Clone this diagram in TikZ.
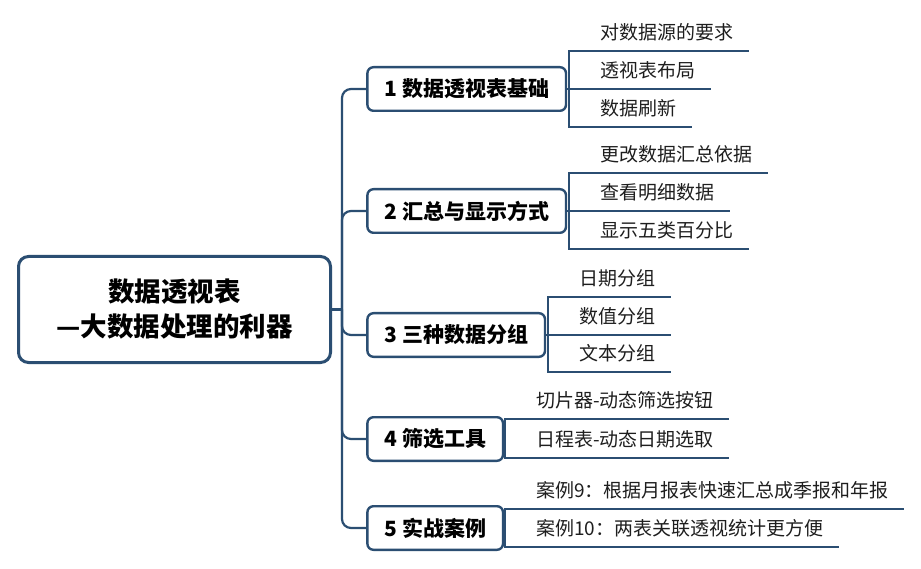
\documentclass[tikz,border=0pt]{standalone}
\usepackage{fontspec}
\newfontfamily\cjk{Noto Sans CJK SC}
\usetikzlibrary{calc}
\definecolor{linecol}{RGB}{43,78,114}
\definecolor{leaftxt}{RGB}{30,30,30}

\tikzset{
  conn/.style={draw=linecol,line width=2.2pt},
  leafline/.style={conn,line cap=rect},
  rootbox/.style={draw=linecol,line width=3pt,rounded corners=10pt,fill=white,
    minimum width=312pt,minimum height=106pt,align=center,
    font=\cjk\bfseries\fontsize{26.5}{35}\selectfont},
  branch/.style={draw=linecol,line width=2.4pt,rounded corners=6pt,fill=white,
    anchor=west,minimum height=43.6pt,inner xsep=17pt,
    font=\cjk\bfseries\fontsize{21}{25}\selectfont},
  leaf/.style={anchor=south west,inner xsep=0pt,inner ysep=7pt,
    text height=14pt,text depth=4pt,text=leaftxt,
    font=\cjk\fontsize{19}{22}\selectfont,
    execute at begin node=\hspace*{31pt},execute at end node=\hspace*{14pt}},
}

\begin{document}
\begin{tikzpicture}[x=1pt,y=-1pt]
\useasboundingbox (0,0) rectangle (921,569);
\node[rootbox] (root) at (174.5,309.5) {数据透视表\\—大数据处理的利器};
\coordinate (hub) at (342,309.5);

\node[branch] (b1) at (366.2,89)  {1 数据透视表基础};
\node[branch] (b2) at (366.2,211) {2 汇总与显示方式};
\node[branch] (b3) at (366.2,335) {3 三种数据分组};
\node[branch] (b4) at (366.2,439) {4 筛选工具};
\node[branch] (b5) at (366.2,528) {5 实战案例};

\draw[conn] (root.east) -- (hub);
\foreach \b in {b1,b2,b3,b4,b5}
  \draw[conn,rounded corners=9pt] (hub) |- (\b.west);

% leaves, each sitting on its own underline
\foreach \x/\y/\name/\txt in {
  569/51/l11/对数据源的要求, 569/89/l12/透视表布局, 569/127/l13/数据刷新,
  569/173/l21/更改数据汇总依据, 569/211/l22/查看明细数据, 569/249/l23/显示五类百分比,
  548/297/l31/日期分组, 548/335/l32/数值分组, 548/372/l33/文本分组,
  505/419/l41/切片器-动态筛选按钮, 505/458/l42/日程表-动态日期选取,
  505/509/l51/案例9：根据月报表快速汇总成季报和年报, 505/547/l52/案例10：两表关联透视统计更方便}{
  \node[leaf] (\name) at (\x,\y) {\txt};
  \draw[leafline] (\name.south west) -- (\name.south east);}

\foreach \b/\top/\bot in {b1/l11/l13,b2/l21/l23,b3/l31/l33,b4/l41/l42,b5/l51/l52}{
  \draw[leafline] (\top.south west) -- (\bot.south west);
  \draw[conn] (\b.east) -- (\b.east -| \top.south west);}
\end{tikzpicture}
\end{document}
